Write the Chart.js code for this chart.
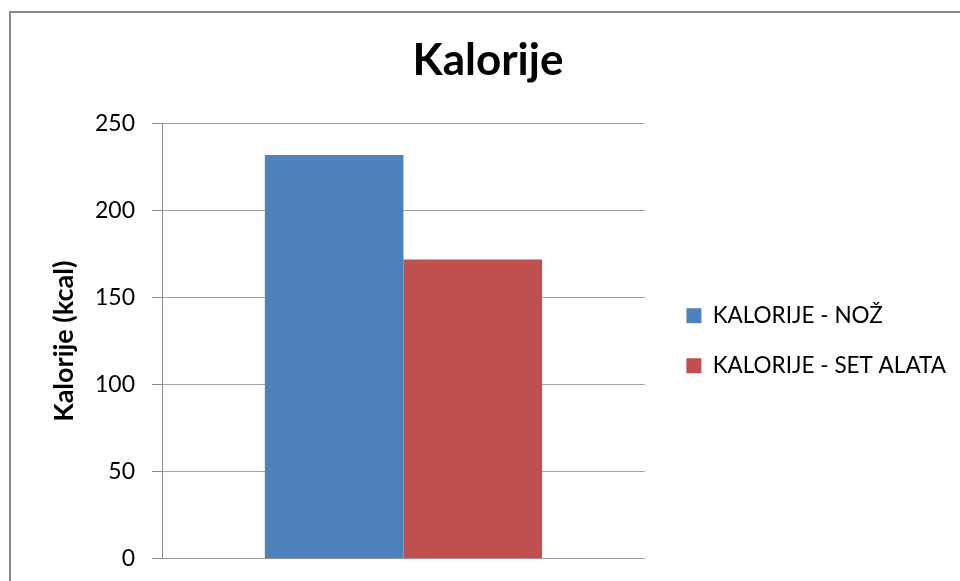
<!DOCTYPE html>
<html>

<head>
    <title>Kalorije</title>
    <meta charset="utf-8">
    <style>
        body {
            margin: 0;
            background: #ffffff;
            overflow: hidden;
        }

        .frame {
            position: absolute;
            left: 9px;
            top: 11px;
            width: 1000px;
            height: 700px;
            border: 2px solid #8a8a8a;
        }

        .chart-box {
            position: absolute;
            left: 0;
            top: 0;
            width: 960px;
            height: 581px;
        }
    </style>
</head>

<body>
    <div class="frame"></div>
    <div class="chart-box">
        <canvas id="kalChart" width="960" height="581"></canvas>
    </div>

    <script src="https://cdn.jsdelivr.net/npm/chart.js"></script>
    <script>
        // values
        const categories = ['Kalorije'];
        const seriesNames = ['KALORIJE - NOŽ', 'KALORIJE - SET ALATA'];
        const nozValues = [232];
        const setAlataValues = [172];
        const yMin = 0;
        const yMax = 250;
        const yStep = 50;

        const fontName = 'Lato, "Open Sans", sans-serif';

        const ctx = document.getElementById('kalChart').getContext('2d');
        const kalChart = new Chart(ctx, {
            type: 'bar',
            data: {
                labels: categories,
                datasets: [{
                    label: seriesNames[0],
                    data: nozValues,
                    backgroundColor: '#4f81bd',
                    borderWidth: 0
                }, {
                    label: seriesNames[1],
                    data: setAlataValues,
                    backgroundColor: '#c0504d',
                    borderWidth: 0
                }]
            },
            options: {
                responsive: false,
                animation: false,
                layout: {
                    padding: { left: 20, right: 4, top: 14, bottom: 0 }
                },
                datasets: {
                    bar: { categoryPercentage: 0.574, barPercentage: 1.0 }
                },
                plugins: {
                    title: {
                        display: true,
                        text: 'Kalorije',
                        color: '#000000',
                        font: { family: fontName, size: 44, weight: 'bold' },
                        padding: { top: 20, bottom: 37 }
                    },
                    legend: {
                        position: 'right',
                        maxWidth: 320,
                        title: {
                            // empty title only pushes the items down
                            display: true,
                            text: '',
                            font: { size: 12 },
                            padding: { top: 72, bottom: 0 }
                        },
                        labels: {
                            color: '#000000',
                            font: { family: fontName, size: 22.5 },
                            boxWidth: 15,
                            boxHeight: 15,
                            padding: 27.5
                        }
                    },
                    tooltip: { enabled: false }
                },
                scales: {
                    x: {
                        display: false
                    },
                    y: {
                        min: yMin,
                        max: yMax,
                        ticks: {
                            stepSize: yStep,
                            color: '#000000',
                            padding: 17,
                            font: { family: fontName, size: 23, lineHeight: 0.46 }
                        },
                        grid: {
                            color: '#a0a0a0',
                            tickLength: 10,
                            tickColor: '#8c8c8c'
                        },
                        border: { color: '#8c8c8c' },
                        title: {
                            display: true,
                            text: 'Kalorije (kcal)',
                            color: '#000000',
                            font: { family: fontName, size: 27, weight: 'bold' },
                            padding: 28
                        },
                        afterFit: function (scale) {
                            scale.width = 142;
                        }
                    },
                    // empty spacer axis, keeps a gap between plot and legend
                    gap: {
                        position: 'right',
                        display: true,
                        min: yMin,
                        max: yMax,
                        grid: { display: false },
                        border: { display: false },
                        ticks: { display: false },
                        afterFit: function (scale) {
                            scale.width = 14;
                        }
                    }
                }
            }
        });
    </script>
</body>

</html>
